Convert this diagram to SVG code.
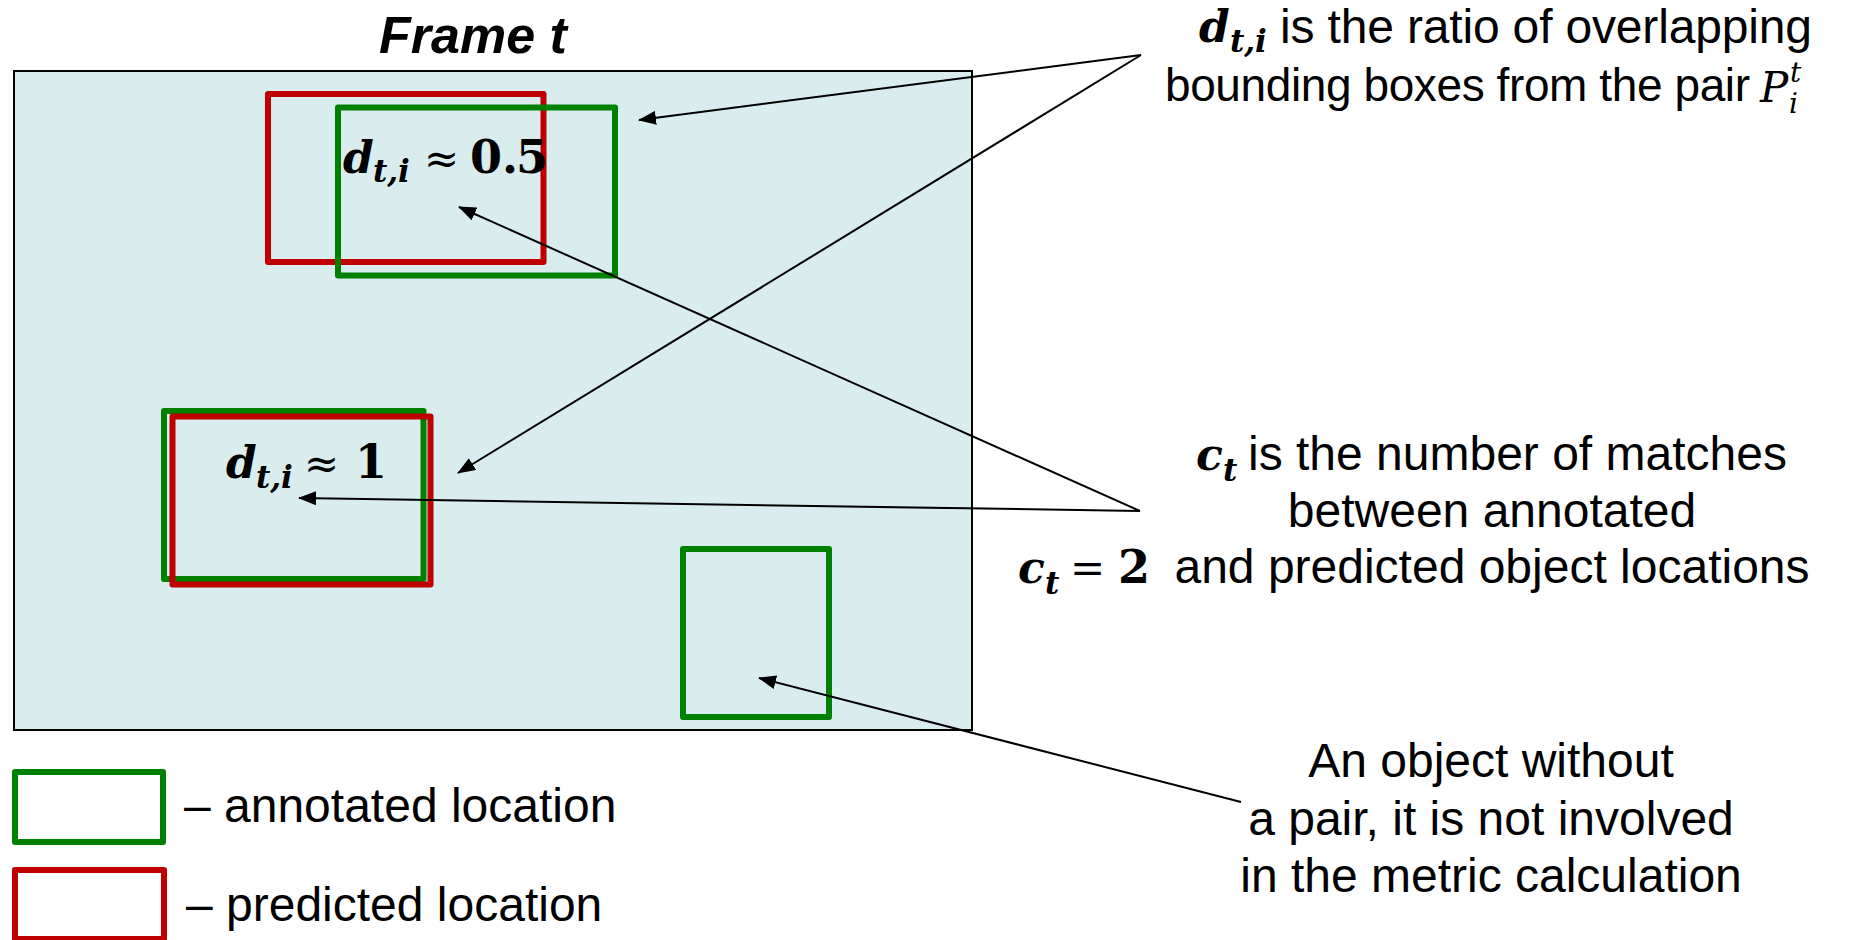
<svg xmlns="http://www.w3.org/2000/svg" width="1856" height="940" viewBox="0 0 1856 940">
  <style>
    .sans { font-family: "Liberation Sans", Arial, sans-serif; fill: #000; }
    .lbl { font-size: 48px; }
    .mbi { font-family: "DejaVu Serif", "Liberation Serif", serif; font-weight: bold; font-style: italic; fill: #000; }
    .mb { font-family: "DejaVu Serif", "Liberation Serif", serif; font-weight: bold; fill: #000; }
    .mr { font-family: "DejaVu Serif", "Liberation Serif", serif; fill: #000; }
    .mi { font-family: "DejaVu Serif", "Liberation Serif", serif; font-style: italic; fill: #000; }
    .green { fill: none; stroke: #008000; stroke-width: 6; stroke-linejoin: round; }
    .red { fill: none; stroke: #C00000; stroke-width: 6; stroke-linejoin: round; }
    .conn { stroke: #000; stroke-width: 2; fill: none; }
  </style>
  <defs>
    <marker id="ah" markerUnits="userSpaceOnUse" markerWidth="18" markerHeight="14" refX="17" refY="7" orient="auto">
      <path d="M0,0 L18,7 L0,14 z" fill="#000"/>
    </marker>
  </defs>
  <rect width="1856" height="940" fill="#fff"/>

  <g id="frame">
    <text class="sans" x="473" y="53" font-size="52" font-weight="bold" font-style="italic" text-anchor="middle">Frame t</text>
    <rect x="14" y="71" width="958" height="659" fill="#DAEDEE" stroke="#000" stroke-width="2"/>
  </g>

  <g id="pair1">
    <rect class="red" x="268" y="94" width="275.5" height="168"/>
    <rect class="green" x="338" y="107.5" width="277" height="168"/>
    <text class="mbi" x="343" y="173" font-size="44">d</text>
    <text class="mbi" x="373" y="182" font-size="31">t,i</text>
    <text class="mr" x="424" y="173" font-size="42">≈</text>
    <text class="mb" x="470" y="173" font-size="46">0.</text>
    <text class="mb" x="516" y="173" font-size="46">5</text>
  </g>

  <g id="pair2">
    <rect class="green" x="164" y="411" width="259.5" height="168"/>
    <rect class="red" x="172.5" y="416.5" width="258" height="168"/>
    <text class="mbi" x="226" y="478" font-size="44">d</text>
    <text class="mbi" x="256" y="488" font-size="31">t,i</text>
    <text class="mr" x="304" y="478" font-size="42">≈</text>
    <text class="mb" x="355" y="478" font-size="46">1</text>
  </g>

  <g id="single">
    <rect class="green" x="683" y="549" width="146" height="168"/>
  </g>

  <g id="legend">
    <rect class="green" x="15" y="772" width="148" height="70"/>
    <text class="sans" x="184" y="822" font-size="48">– annotated location</text>
    <rect class="red" x="15" y="870" width="149" height="69"/>
    <text class="sans" x="186" y="921" font-size="48">– predicted location</text>
  </g>

  <g id="label-d">
    <text class="mbi" x="1199" y="42" font-size="44">d</text>
    <text class="mbi" x="1230" y="52" font-size="31">t,i</text>
    <text class="sans lbl" x="1280" y="43" textLength="532">is the ratio of overlapping</text>
    <text class="sans" x="1165" y="101" font-size="46" textLength="585">bounding boxes from the pair</text>
    <text class="mi" x="1760" y="102" font-size="42">P</text>
    <text class="mi" x="1790" y="82" font-size="28">t</text>
    <text class="mi" x="1789" y="113" font-size="28">i</text>
  </g>

  <g id="label-c">
    <text class="mbi" x="1196" y="470" font-size="44">c</text>
    <text class="mbi" x="1223" y="481" font-size="31">t</text>
    <text class="sans lbl" x="1248" y="470">is the number of matches</text>
    <text class="sans lbl" x="1492" y="527" text-anchor="middle">between annotated</text>
    <text class="sans lbl" x="1492" y="583" text-anchor="middle">and predicted object locations</text>
  </g>

  <g id="label-ct">
    <text class="mbi" x="1018" y="583" font-size="44">c</text>
    <text class="mbi" x="1045" y="594" font-size="31">t</text>
    <text class="mr" x="1070" y="583" font-size="42">=</text>
    <text class="mb" x="1118" y="583" font-size="46">2</text>
  </g>

  <g id="label-single">
    <text class="sans lbl" x="1491" y="777" text-anchor="middle">An object without</text>
    <text class="sans lbl" x="1491" y="835" text-anchor="middle">a pair, it is not involved</text>
    <text class="sans lbl" x="1491" y="892" text-anchor="middle">in the metric calculation</text>
  </g>

  <g id="connectors">
    <line class="conn" x1="1141" y1="55" x2="639" y2="120" marker-end="url(#ah)"/>
    <line class="conn" x1="1141" y1="55" x2="458" y2="473" marker-end="url(#ah)"/>
    <line class="conn" x1="1140" y1="511" x2="459" y2="207" marker-end="url(#ah)"/>
    <line class="conn" x1="1140" y1="511" x2="299" y2="498" marker-end="url(#ah)"/>
    <line class="conn" x1="1241" y1="802" x2="759" y2="678" marker-end="url(#ah)"/>
  </g>
</svg>
